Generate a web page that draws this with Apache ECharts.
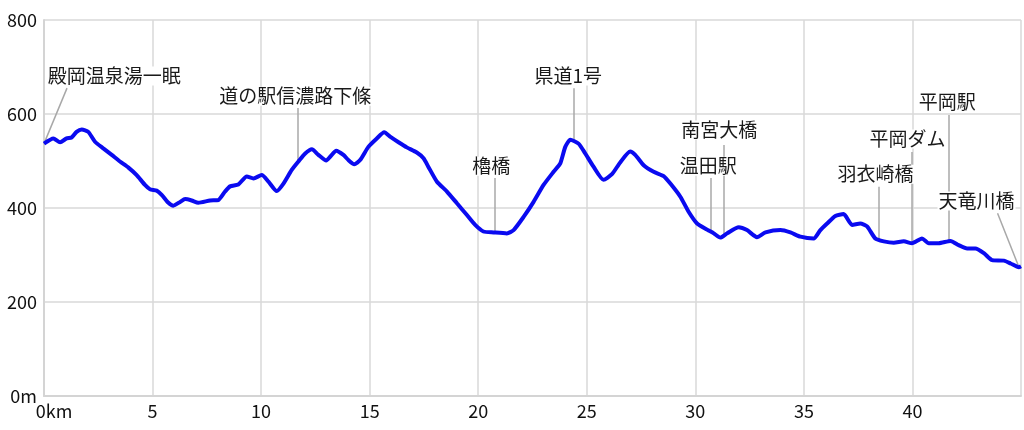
<!DOCTYPE html>
<html>
<head>
<meta charset="utf-8">
<script src="https://cdn.jsdelivr.net/npm/echarts@6/dist/echarts.min.js"></script>
<style>
  html, body { margin: 0; padding: 0; background: #ffffff; }
  #chart { width: 1024px; height: 430px; }
</style>
</head>
<body>
<div id="chart"></div>
<script>
  // 距離 (km) と標高 (m)
  var dist = [0, 0.43, 0.74, 1.04, 1.27, 1.5, 1.74, 2.04, 2.35, 2.73, 3.12, 3.5, 3.89, 4.27, 4.65, 4.88,
    5.19, 5.42, 5.73, 5.96, 6.27, 6.5, 6.8, 7.11, 7.65, 8.03, 8.34, 8.57, 8.95, 9.34, 9.65, 10.03,
    10.34, 10.72, 11.03, 11.41, 11.72, 12.03, 12.34, 12.64, 13.0, 13.18, 13.46, 13.79, 14.02, 14.29,
    14.56, 14.94, 15.33, 15.67, 15.94, 16.33, 16.71, 17.17, 17.48, 17.7, 18.1, 18.56, 19.02, 19.48,
    19.86, 20.24, 20.71, 21.32, 21.63, 22.09, 22.55, 23.01, 23.47, 23.78, 24.01, 24.24, 24.62, 24.93,
    25.31, 25.77, 26.16, 26.54, 27.0, 27.23, 27.62, 28.08, 28.54, 28.85, 29.31, 29.69, 30.08, 30.54,
    30.85, 31.15, 31.46, 32.0, 32.38, 32.84, 33.23, 33.92, 34.38, 34.84, 35.45, 35.76, 36.07, 36.45,
    36.83, 37.22, 37.6, 37.91, 38.29, 38.68, 39.14, 39.6, 39.98, 40.44, 40.75, 41.21, 41.75, 42.13,
    42.52, 42.9, 43.29, 43.67, 44.21, 44.52, 44.9, 45.0]
  var elev = [537, 548, 540, 548, 550, 562, 567, 562, 541, 527, 513, 499, 486, 470, 449, 440,
    437, 428, 411, 405, 413, 419, 416, 411, 416, 417, 435, 446, 450, 467, 463, 470,
    456, 436, 452, 481, 499, 516, 525, 513, 501, 509, 522, 513, 502, 493,
    502, 530, 548, 561, 552, 540, 529, 518, 506, 488, 456, 435, 410, 385,
    364, 350, 348, 346, 353, 381, 413, 449, 477, 495, 530, 545, 537, 516,
    488, 460, 472, 497, 520, 513, 491, 477, 468, 452, 424, 392, 367, 354,
    346, 337, 346, 359, 353, 338, 348, 353, 348, 339, 335, 353, 367, 383,
    387, 364, 367, 361, 335, 329, 326, 329, 325, 335, 325, 325, 330, 321,
    314, 314, 304, 289, 288, 282, 274, 276]

  var yTicks = [0, 200, 400, 600, 800]
  var xTicks = [0, 5, 10, 15, 20, 25, 30, 35, 40]

  // 地点名と曲線上の位置
  var spotNames = ['殿岡温泉湯一眠', '道の駅信濃路下條', '櫓橋', '県道1号', '南宮大橋', '温田駅',
    '羽衣崎橋', '平岡ダム', '平岡駅', '天竜川橋']
  var spotKm = [0, 11.7, 20.74, 24.38, 31.29, 30.69, 38.43, 39.95, 41.66, 44.88]
  var spotElev = [537, 499, 348, 540, 340, 352, 331, 325, 330, 277]

  // ラベルの置き場所 (レイアウト)
  var labelAt = [[3.23, 681], [11.57, 638], [20.6, 489], [24.15, 681], [31.1, 566], [30.6, 489],
    [38.3, 472], [39.77, 547], [41.6, 625], [42.95, 415]]
  var leaderTop = [[1.06, 655], [11.7, 613], [20.74, 464], [24.38, 655], [31.29, 534], [30.69, 464],
    [38.43, 445], [39.95, 519], [41.66, 598], [43.92, 389]]

  var chart = echarts.init(document.getElementById('chart'))

  var lineData = dist.map(function (d, i) { return [d, elev[i]] })

  var leaders = spotNames.map(function (n, i) {
    return [{ coord: leaderTop[i] }, { coord: [spotKm[i], spotElev[i]] }]
  })
  var labels = spotNames.map(function (n, i) {
    return { name: n, coord: labelAt[i], value: n }
  })

  var axisFont = { fontFamily: 'Noto Sans CJK JP', fontSize: 18, color: '#111' }

  var option = {
    animation: false,
    grid: { left: 44, right: 3, top: 20, bottom: 34 },
    xAxis: {
      type: 'value',
      min: 0,
      max: 45,
      interval: 5,
      axisLine: { show: true, lineStyle: { color: '#d4d4d4', width: 2 } },
      axisTick: { show: false },
      splitLine: { show: true, lineStyle: { color: '#d8d8d8', width: 1.5 } },
      axisLabel: Object.assign({
        margin: 6,
        showMaxLabel: false,
        formatter: function (v) { return v === 0 ? '{k|0km}' : (xTicks.indexOf(v) >= 0 ? String(v) : '') },
        rich: { k: { fontFamily: 'Noto Sans CJK JP', fontSize: 18, color: '#111', padding: [0, 0, 0, 20] } }
      }, axisFont)
    },
    yAxis: {
      type: 'value',
      min: 0,
      max: 800,
      interval: 200,
      axisLine: { show: true, lineStyle: { color: '#d4d4d4', width: 2 } },
      axisTick: { show: false },
      splitLine: { show: true, lineStyle: { color: '#d8d8d8', width: 1.5 } },
      axisLabel: Object.assign({
        margin: 7,
        formatter: function (v) { return v === 0 ? '0m' : (yTicks.indexOf(v) >= 0 ? String(v) : '') }
      }, axisFont)
    },
    series: [
      {
        type: 'line',
        data: lineData,
        showSymbol: false,
        smooth: 0.2,
        z: 5,
        lineStyle: { color: '#0a0af0', width: 4 },
        markLine: {
          silent: true,
          symbol: ['none', 'none'],
          label: { show: false },
          lineStyle: { color: '#a8a8a8', width: 1.5, type: 'solid' },
          data: leaders,
          z: 3
        },
        markPoint: {
          silent: true,
          symbol: 'circle',
          symbolSize: 1,
          itemStyle: { color: 'rgba(0,0,0,0)' },
          label: {
            show: true,
            position: 'inside',
            formatter: '{b}',
            fontFamily: 'Noto Sans CJK JP',
            fontSize: 19,
            color: '#1a1a1a',
            backgroundColor: '#ffffff',
            padding: [0, 1]
          },
          data: labels
        }
      }
    ]
  }

  chart.setOption(option)
</script>
</body>
</html>
